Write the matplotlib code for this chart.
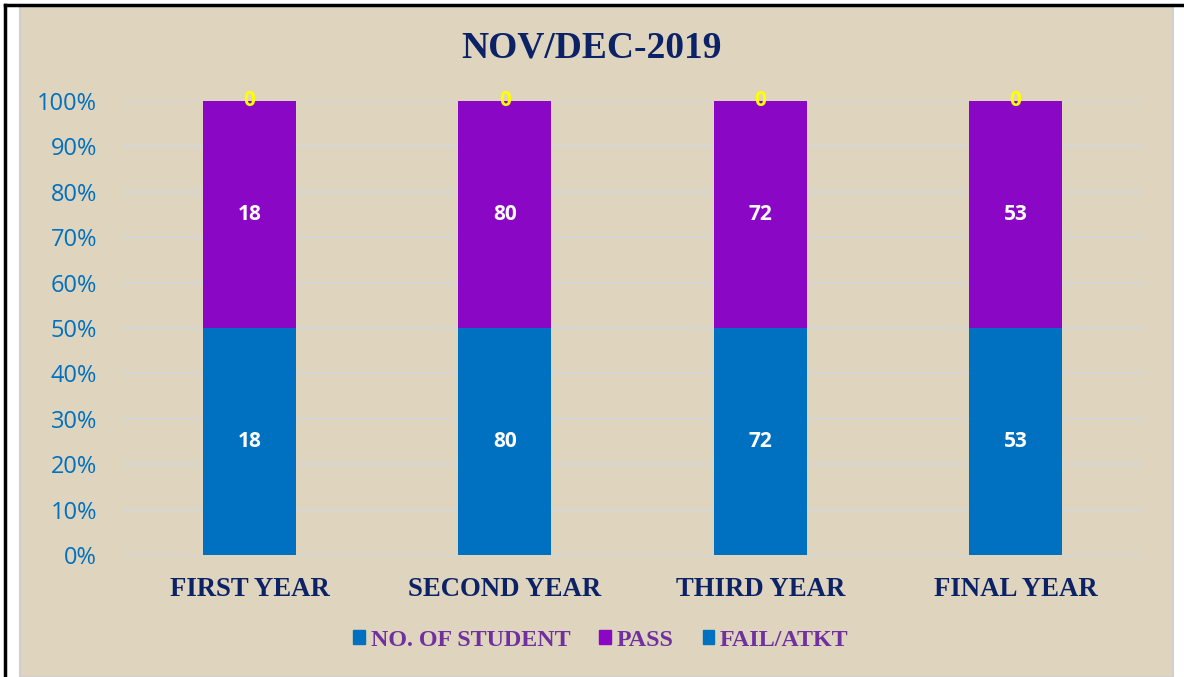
import numpy as np
import matplotlib.pyplot as plt
from matplotlib.patches import Rectangle
from matplotlib.lines import Line2D

# data
years = ["FIRST YEAR", "SECOND YEAR", "THIRD YEAR", "FINAL YEAR"]
no_of_student = [18, 80, 72, 53]
passed = [18, 80, 72, 53]
fail_atkt = [0, 0, 0, 0]
series_names = ["NO. OF STUDENT", "PASS", "FAIL/ATKT"]

blue = "#0070C0"
purple = "#8A07C6"
navy = "#0B2266"
legend_purple = "#7030A0"
beige = "#DFD5BE"

fig = plt.figure(figsize=(11.84, 6.77), dpi=100)
fig.patch.set_facecolor("white")

# textured chart area approximated with a flat beige panel + frame lines
panel = Rectangle((20 / 1184, 0), 1153 / 1184, 671 / 677,
                  transform=fig.transFigure, facecolor=beige,
                  edgecolor="#CFCFCF", linewidth=1.5, zorder=-5)
fig.patches.append(panel)
fig.lines.append(Line2D([5 / 1184, 5 / 1184], [0, 672 / 677], transform=fig.transFigure,
                        color="black", linewidth=2.5, zorder=-4))
fig.lines.append(Line2D([5 / 1184, 1], [672 / 677, 672 / 677], transform=fig.transFigure,
                        color="black", linewidth=2.5, zorder=-4))

ax = fig.add_axes([122 / 1184, 1 - 555 / 677, 1021 / 1184, 454 / 677])
ax.set_facecolor("none")
ax.set_zorder(2)

totals = np.array(no_of_student) + np.array(passed) + np.array(fail_atkt)
p1 = np.array(no_of_student) / totals * 100
p2 = np.array(passed) / totals * 100
p3 = np.array(fail_atkt) / totals * 100
x = np.arange(len(years))
w = 0.365

b1 = ax.bar(x, p1, w, color=blue, zorder=2)
b2 = ax.bar(x, p2, w, bottom=p1, color=purple, zorder=2)
b3 = ax.bar(x, p3, w, bottom=p1 + p2, color=blue, zorder=2)

ax.bar_label(b1, labels=[str(v) for v in no_of_student], label_type="center",
             color="white", fontsize=15, fontweight="bold", family="Open Sans")
ax.bar_label(b2, labels=[str(v) for v in passed], label_type="center",
             color="white", fontsize=15, fontweight="bold", family="Open Sans")
ax.bar_label(b3, labels=[str(v) for v in fail_atkt], label_type="center",
             color="#FFFF00", fontsize=15, fontweight="bold", family="Open Sans")

ax.set_xlim(-0.5, len(years) - 0.5)
ax.set_ylim(0, 100)
ax.set_yticks(np.arange(0, 101, 10))
ax.set_yticklabels([f"{v}%" for v in range(0, 101, 10)], color=blue,
                   fontsize=17, family="Open Sans")
ax.set_xticks(x)
ax.set_xticklabels(years, color=navy, fontsize=19.3, fontweight="bold",
                   family="Liberation Serif")
ax.tick_params(axis="both", length=0)
ax.tick_params(axis="y", pad=18)
ax.tick_params(axis="x", pad=15.5)
ax.set_axisbelow(True)
ax.grid(axis="y", color="#D6D6D6", linewidth=1.5)
for s in ax.spines.values():
    s.set_visible(False)

fig.text(0.5, 1 - 48 / 677, "NOV/DEC-2019", ha="center", va="center",
         color=navy, fontsize=27, fontweight="bold", family="Liberation Serif")

handles = [Rectangle((0, 0), 1, 1, color=c) for c in [blue, purple, blue]]
leg = fig.legend(handles, series_names, loc="center", bbox_to_anchor=(601 / 1184, 1 - 640 / 677),
                 ncol=3, frameon=False, handlelength=0.48, handleheight=0.48,
                 handletextpad=0.25, columnspacing=1.2,
                 prop={"family": "Liberation Serif", "weight": "bold", "size": 17.3})
for t in leg.get_texts():
    t.set_color(legend_purple)

fig.savefig("out.png", dpi=100)
